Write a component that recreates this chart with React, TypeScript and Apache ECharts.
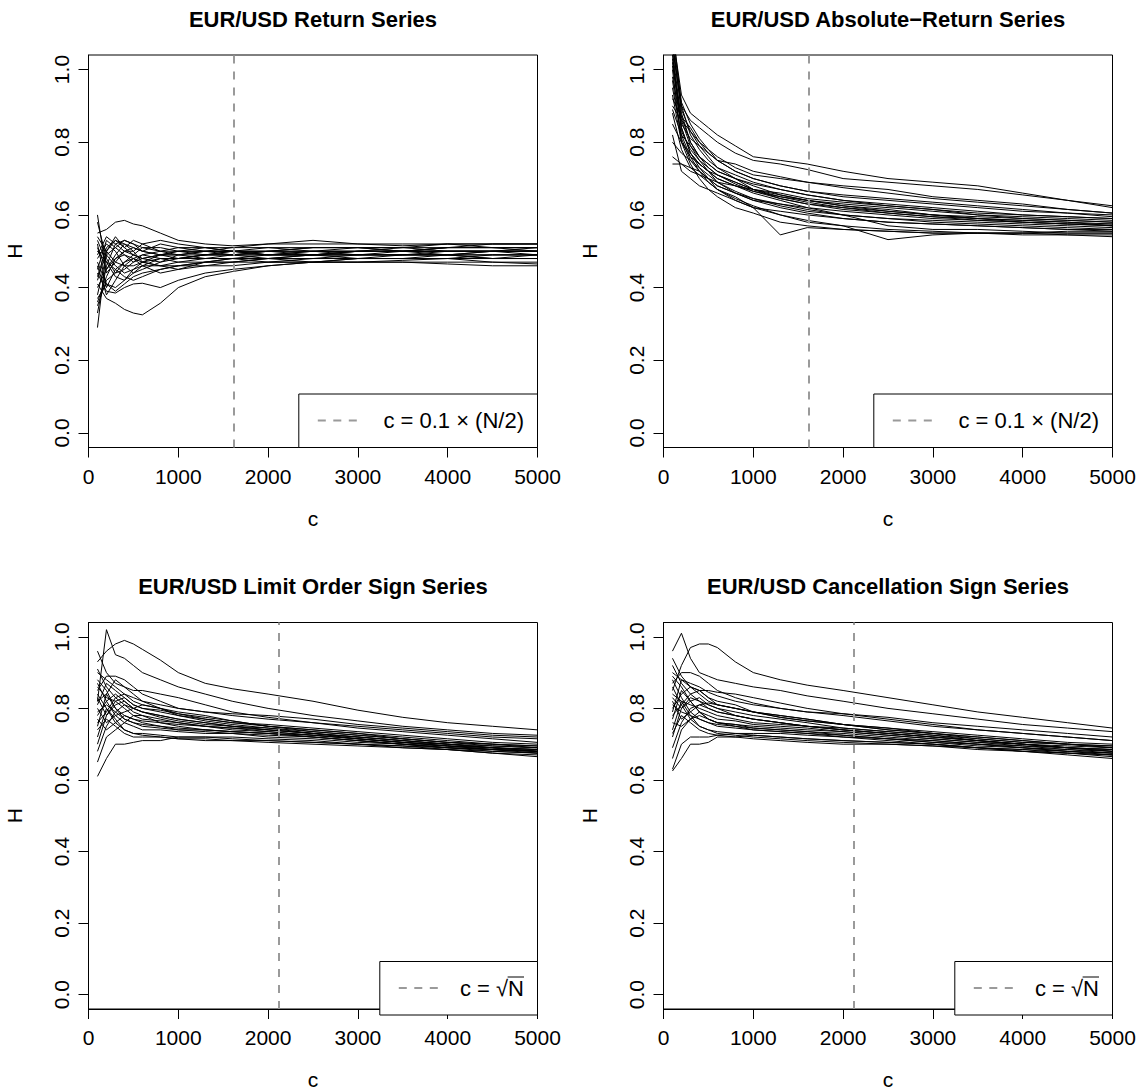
import React, { useEffect, useRef } from "react";
import * as echarts from "echarts";

// ---------- data ----------
const C_VALUES = [100, 200, 300, 400, 500, 600, 800, 1000, 1300, 1600, 2000, 2500, 3000, 3500, 4000, 4500, 5000];
const X_TICKS = [0, 1000, 2000, 3000, 4000, 5000];
const Y_TICKS = [0, 0.2, 0.4, 0.6, 0.8, 1];
const TITLES = [
  "EUR/USD Return Series",
  "EUR/USD Absolute\u2212Return Series",
  "EUR/USD Limit Order Sign Series",
  "EUR/USD Cancellation Sign Series",
];
const CUTOFFS = [1620, 1620, 2120, 2120];
const LEGEND_LABELS = ["c = 0.1 \u00d7 (N/2)", "c = 0.1 \u00d7 (N/2)", "c = \u221aN", "c = \u221aN"];

const RETURN_H: number[][] = [
  [0.60, 0.44, 0.47, 0.50, 0.49, 0.48, 0.49, 0.50, 0.50, 0.49, 0.50, 0.50, 0.51, 0.50, 0.51, 0.51, 0.51],
  [0.29, 0.50, 0.53, 0.51, 0.49, 0.48, 0.49, 0.48, 0.49, 0.49, 0.48, 0.49, 0.50, 0.50, 0.50, 0.50, 0.50],
  [0.55, 0.56, 0.58, 0.585, 0.575, 0.57, 0.55, 0.53, 0.52, 0.515, 0.52, 0.53, 0.52, 0.515, 0.52, 0.52, 0.52],
  [0.41, 0.37, 0.357, 0.34, 0.33, 0.325, 0.357, 0.40, 0.43, 0.444, 0.46, 0.47, 0.48, 0.48, 0.48, 0.49, 0.49],
  [0.44, 0.39, 0.385, 0.40, 0.41, 0.412, 0.40, 0.42, 0.44, 0.45, 0.46, 0.47, 0.47, 0.475, 0.48, 0.48, 0.48],
  [0.52, 0.40, 0.45, 0.47, 0.48, 0.47, 0.46, 0.45, 0.46, 0.47, 0.47, 0.47, 0.47, 0.47, 0.465, 0.46, 0.46],
  [0.33, 0.46, 0.52, 0.53, 0.52, 0.51, 0.50, 0.51, 0.50, 0.50, 0.50, 0.51, 0.51, 0.51, 0.51, 0.52, 0.52],
  [0.48, 0.52, 0.50, 0.46, 0.44, 0.45, 0.47, 0.48, 0.49, 0.50, 0.49, 0.49, 0.49, 0.50, 0.50, 0.50, 0.50],
  [0.36, 0.43, 0.48, 0.50, 0.51, 0.50, 0.49, 0.49, 0.48, 0.48, 0.49, 0.49, 0.50, 0.50, 0.49, 0.49, 0.49],
  [0.50, 0.47, 0.43, 0.42, 0.44, 0.46, 0.48, 0.47, 0.47, 0.48, 0.48, 0.48, 0.49, 0.49, 0.49, 0.50, 0.50],
  [0.45, 0.53, 0.51, 0.49, 0.47, 0.49, 0.50, 0.50, 0.49, 0.49, 0.50, 0.50, 0.50, 0.51, 0.50, 0.50, 0.51],
  [0.58, 0.48, 0.44, 0.45, 0.47, 0.48, 0.47, 0.49, 0.50, 0.50, 0.51, 0.50, 0.50, 0.50, 0.51, 0.51, 0.50],
  [0.40, 0.45, 0.49, 0.52, 0.50, 0.47, 0.46, 0.47, 0.48, 0.48, 0.47, 0.48, 0.48, 0.48, 0.48, 0.47, 0.47],
  [0.54, 0.50, 0.47, 0.46, 0.46, 0.47, 0.48, 0.48, 0.49, 0.49, 0.49, 0.50, 0.49, 0.49, 0.50, 0.50, 0.49],
  [0.38, 0.49, 0.46, 0.44, 0.45, 0.46, 0.46, 0.46, 0.47, 0.47, 0.48, 0.48, 0.48, 0.49, 0.49, 0.48, 0.49],
  [0.47, 0.41, 0.40, 0.42, 0.45, 0.47, 0.49, 0.49, 0.50, 0.51, 0.51, 0.51, 0.51, 0.51, 0.52, 0.51, 0.51],
  [0.43, 0.51, 0.53, 0.52, 0.51, 0.50, 0.52, 0.51, 0.51, 0.50, 0.50, 0.49, 0.49, 0.49, 0.49, 0.50, 0.50],
  [0.51, 0.45, 0.48, 0.49, 0.48, 0.46, 0.44, 0.45, 0.47, 0.48, 0.48, 0.49, 0.49, 0.49, 0.49, 0.49, 0.49],
  [0.35, 0.42, 0.44, 0.47, 0.49, 0.51, 0.51, 0.50, 0.50, 0.50, 0.49, 0.50, 0.50, 0.50, 0.50, 0.50, 0.50],
  [0.49, 0.54, 0.52, 0.50, 0.50, 0.52, 0.53, 0.52, 0.51, 0.51, 0.52, 0.52, 0.52, 0.52, 0.52, 0.52, 0.52],
  [0.46, 0.38, 0.42, 0.46, 0.48, 0.49, 0.48, 0.48, 0.48, 0.49, 0.49, 0.49, 0.48, 0.48, 0.49, 0.48, 0.48],
  [0.53, 0.47, 0.45, 0.43, 0.42, 0.43, 0.45, 0.46, 0.47, 0.47, 0.48, 0.47, 0.48, 0.48, 0.48, 0.48, 0.48],
  [0.42, 0.50, 0.54, 0.51, 0.53, 0.52, 0.50, 0.49, 0.49, 0.50, 0.50, 0.51, 0.51, 0.50, 0.51, 0.51, 0.51],
  [0.37, 0.41, 0.39, 0.41, 0.43, 0.44, 0.45, 0.46, 0.46, 0.46, 0.47, 0.47, 0.47, 0.47, 0.47, 0.47, 0.465],
  [0.50, 0.49, 0.51, 0.53, 0.52, 0.50, 0.49, 0.50, 0.51, 0.50, 0.49, 0.49, 0.50, 0.50, 0.50, 0.50, 0.50],
];

const ABS_RETURN_H: number[][] = [
  [1.10, 0.93, 0.88, 0.86, 0.84, 0.82, 0.79, 0.76, 0.75, 0.74, 0.72, 0.70, 0.69, 0.68, 0.66, 0.64, 0.62],
  [1.06, 0.90, 0.86, 0.84, 0.82, 0.80, 0.77, 0.75, 0.74, 0.725, 0.70, 0.69, 0.68, 0.67, 0.655, 0.64, 0.625],
  [0.76, 0.74, 0.72, 0.71, 0.70, 0.69, 0.68, 0.67, 0.655, 0.64, 0.625, 0.61, 0.60, 0.59, 0.585, 0.58, 0.57],
  [0.74, 0.74, 0.73, 0.72, 0.70, 0.68, 0.66, 0.64, 0.63, 0.62, 0.61, 0.60, 0.59, 0.585, 0.58, 0.575, 0.57],
  [1.00, 0.80, 0.74, 0.70, 0.67, 0.65, 0.62, 0.605, 0.58, 0.57, 0.56, 0.555, 0.55, 0.55, 0.545, 0.545, 0.54],
  [0.95, 0.82, 0.76, 0.72, 0.70, 0.67, 0.64, 0.62, 0.60, 0.58, 0.57, 0.56, 0.555, 0.55, 0.55, 0.545, 0.545],
  [1.08, 0.88, 0.80, 0.76, 0.74, 0.72, 0.70, 0.68, 0.655, 0.64, 0.63, 0.62, 0.61, 0.60, 0.59, 0.585, 0.58],
  [0.90, 0.86, 0.83, 0.80, 0.77, 0.75, 0.72, 0.70, 0.68, 0.665, 0.65, 0.64, 0.63, 0.62, 0.61, 0.605, 0.60],
  [0.88, 0.78, 0.73, 0.71, 0.69, 0.67, 0.65, 0.62, 0.545, 0.565, 0.56, 0.555, 0.55, 0.55, 0.55, 0.555, 0.555],
  [1.04, 0.84, 0.77, 0.74, 0.72, 0.70, 0.68, 0.66, 0.64, 0.62, 0.60, 0.57, 0.56, 0.56, 0.555, 0.55, 0.55],
  [0.97, 0.81, 0.75, 0.72, 0.69, 0.67, 0.645, 0.625, 0.60, 0.585, 0.57, 0.532, 0.545, 0.55, 0.55, 0.55, 0.55],
  [1.12, 0.90, 0.82, 0.78, 0.75, 0.73, 0.71, 0.69, 0.67, 0.655, 0.64, 0.63, 0.62, 0.61, 0.60, 0.595, 0.59],
  [0.92, 0.87, 0.84, 0.80, 0.78, 0.76, 0.73, 0.71, 0.70, 0.69, 0.68, 0.67, 0.65, 0.64, 0.63, 0.615, 0.605],
  [1.02, 0.83, 0.78, 0.75, 0.73, 0.71, 0.69, 0.67, 0.65, 0.635, 0.62, 0.605, 0.595, 0.585, 0.58, 0.575, 0.57],
  [0.85, 0.80, 0.77, 0.74, 0.72, 0.70, 0.68, 0.665, 0.65, 0.64, 0.625, 0.615, 0.60, 0.59, 0.585, 0.58, 0.575],
  [1.05, 0.86, 0.79, 0.75, 0.72, 0.69, 0.66, 0.64, 0.62, 0.605, 0.59, 0.58, 0.575, 0.57, 0.565, 0.56, 0.56],
  [0.82, 0.72, 0.70, 0.68, 0.67, 0.66, 0.64, 0.62, 0.61, 0.60, 0.59, 0.58, 0.575, 0.57, 0.565, 0.56, 0.555],
  [0.98, 0.85, 0.81, 0.79, 0.77, 0.75, 0.74, 0.72, 0.705, 0.69, 0.675, 0.66, 0.645, 0.635, 0.625, 0.615, 0.605],
  [1.07, 0.89, 0.83, 0.79, 0.76, 0.73, 0.70, 0.67, 0.645, 0.63, 0.62, 0.61, 0.60, 0.595, 0.59, 0.585, 0.58],
  [0.93, 0.80, 0.76, 0.74, 0.72, 0.71, 0.69, 0.67, 0.66, 0.645, 0.635, 0.625, 0.615, 0.605, 0.60, 0.595, 0.59],
  [1.03, 0.84, 0.77, 0.73, 0.70, 0.68, 0.66, 0.645, 0.625, 0.61, 0.60, 0.59, 0.585, 0.58, 0.575, 0.57, 0.565],
  [0.89, 0.82, 0.79, 0.76, 0.74, 0.72, 0.70, 0.685, 0.67, 0.655, 0.64, 0.625, 0.615, 0.60, 0.595, 0.59, 0.585],
  [1.09, 0.91, 0.85, 0.81, 0.78, 0.75, 0.72, 0.70, 0.68, 0.665, 0.655, 0.645, 0.635, 0.625, 0.615, 0.605, 0.595],
  [0.80, 0.77, 0.75, 0.73, 0.71, 0.69, 0.665, 0.645, 0.63, 0.615, 0.60, 0.59, 0.58, 0.575, 0.57, 0.565, 0.56],
  [1.01, 0.87, 0.80, 0.76, 0.73, 0.71, 0.685, 0.665, 0.645, 0.63, 0.615, 0.605, 0.595, 0.59, 0.58, 0.575, 0.575],
];

const LIMIT_SIGN_H: number[][] = [
  [0.93, 0.96, 0.98, 0.99, 0.98, 0.965, 0.935, 0.90, 0.87, 0.855, 0.84, 0.82, 0.795, 0.775, 0.76, 0.75, 0.74],
  [0.82, 1.02, 0.95, 0.94, 0.92, 0.90, 0.88, 0.86, 0.84, 0.82, 0.80, 0.78, 0.765, 0.75, 0.74, 0.73, 0.725],
  [0.61, 0.66, 0.70, 0.70, 0.705, 0.71, 0.71, 0.72, 0.72, 0.72, 0.715, 0.71, 0.70, 0.695, 0.69, 0.685, 0.68],
  [0.65, 0.72, 0.74, 0.76, 0.78, 0.78, 0.76, 0.75, 0.74, 0.735, 0.73, 0.72, 0.71, 0.70, 0.69, 0.685, 0.68],
  [0.96, 0.90, 0.87, 0.86, 0.85, 0.85, 0.84, 0.83, 0.81, 0.79, 0.775, 0.76, 0.75, 0.74, 0.73, 0.72, 0.715],
  [0.78, 0.82, 0.84, 0.82, 0.80, 0.79, 0.78, 0.77, 0.76, 0.75, 0.74, 0.73, 0.715, 0.705, 0.695, 0.69, 0.685],
  [0.88, 0.85, 0.80, 0.77, 0.76, 0.755, 0.75, 0.745, 0.74, 0.735, 0.73, 0.725, 0.715, 0.705, 0.70, 0.69, 0.685],
  [0.70, 0.78, 0.82, 0.83, 0.81, 0.80, 0.79, 0.78, 0.765, 0.755, 0.745, 0.73, 0.72, 0.71, 0.70, 0.695, 0.69],
  [0.84, 0.80, 0.76, 0.74, 0.73, 0.725, 0.72, 0.715, 0.71, 0.71, 0.705, 0.70, 0.695, 0.69, 0.685, 0.675, 0.67],
  [0.90, 0.88, 0.86, 0.84, 0.83, 0.82, 0.81, 0.80, 0.79, 0.78, 0.77, 0.76, 0.745, 0.735, 0.725, 0.715, 0.705],
  [0.75, 0.84, 0.80, 0.78, 0.77, 0.76, 0.75, 0.74, 0.735, 0.73, 0.72, 0.715, 0.705, 0.70, 0.69, 0.68, 0.675],
  [0.80, 0.76, 0.78, 0.79, 0.80, 0.81, 0.80, 0.79, 0.78, 0.765, 0.75, 0.74, 0.73, 0.715, 0.705, 0.70, 0.69],
  [0.86, 0.83, 0.82, 0.80, 0.78, 0.77, 0.765, 0.76, 0.75, 0.745, 0.74, 0.73, 0.72, 0.71, 0.70, 0.69, 0.685],
  [0.72, 0.80, 0.77, 0.74, 0.73, 0.73, 0.725, 0.72, 0.72, 0.715, 0.71, 0.705, 0.70, 0.69, 0.685, 0.68, 0.675],
  [0.81, 0.87, 0.85, 0.83, 0.81, 0.80, 0.795, 0.785, 0.775, 0.765, 0.75, 0.735, 0.725, 0.715, 0.705, 0.695, 0.69],
  [0.77, 0.74, 0.76, 0.78, 0.77, 0.765, 0.76, 0.755, 0.75, 0.74, 0.735, 0.725, 0.715, 0.705, 0.695, 0.685, 0.68],
  [0.85, 0.89, 0.89, 0.88, 0.86, 0.84, 0.82, 0.80, 0.79, 0.785, 0.78, 0.77, 0.755, 0.745, 0.735, 0.725, 0.72],
  [0.79, 0.81, 0.79, 0.77, 0.76, 0.75, 0.745, 0.74, 0.74, 0.735, 0.73, 0.72, 0.71, 0.70, 0.69, 0.685, 0.675],
  [0.83, 0.78, 0.81, 0.82, 0.80, 0.79, 0.775, 0.765, 0.755, 0.75, 0.745, 0.735, 0.725, 0.715, 0.705, 0.70, 0.695],
  [0.68, 0.75, 0.79, 0.81, 0.80, 0.79, 0.78, 0.77, 0.76, 0.75, 0.74, 0.73, 0.72, 0.71, 0.70, 0.69, 0.68],
  [0.87, 0.82, 0.78, 0.76, 0.75, 0.74, 0.74, 0.735, 0.73, 0.73, 0.725, 0.72, 0.71, 0.70, 0.695, 0.69, 0.68],
  [0.76, 0.79, 0.83, 0.84, 0.82, 0.81, 0.80, 0.785, 0.77, 0.76, 0.75, 0.74, 0.73, 0.72, 0.71, 0.70, 0.695],
  [0.91, 0.86, 0.83, 0.81, 0.79, 0.78, 0.77, 0.76, 0.75, 0.745, 0.735, 0.725, 0.715, 0.705, 0.695, 0.685, 0.68],
  [0.74, 0.77, 0.75, 0.73, 0.72, 0.72, 0.72, 0.715, 0.715, 0.71, 0.71, 0.705, 0.70, 0.695, 0.685, 0.675, 0.665],
  [0.82, 0.84, 0.88, 0.86, 0.84, 0.82, 0.80, 0.78, 0.77, 0.76, 0.755, 0.745, 0.735, 0.725, 0.715, 0.705, 0.70],
];

const CANCEL_SIGN_H: number[][] = [
  [0.85, 0.92, 0.97, 0.98, 0.98, 0.97, 0.93, 0.90, 0.88, 0.865, 0.85, 0.83, 0.81, 0.79, 0.775, 0.76, 0.745],
  [0.96, 1.01, 0.94, 0.90, 0.89, 0.88, 0.87, 0.86, 0.85, 0.835, 0.82, 0.80, 0.785, 0.77, 0.755, 0.745, 0.735],
  [0.625, 0.66, 0.70, 0.70, 0.705, 0.72, 0.72, 0.725, 0.72, 0.715, 0.71, 0.705, 0.70, 0.69, 0.68, 0.675, 0.665],
  [0.66, 0.74, 0.77, 0.78, 0.77, 0.76, 0.75, 0.74, 0.735, 0.73, 0.72, 0.71, 0.70, 0.69, 0.685, 0.675, 0.67],
  [0.94, 0.89, 0.86, 0.85, 0.85, 0.845, 0.84, 0.83, 0.815, 0.80, 0.785, 0.77, 0.755, 0.74, 0.73, 0.72, 0.71],
  [0.80, 0.84, 0.86, 0.85, 0.83, 0.81, 0.80, 0.79, 0.775, 0.765, 0.755, 0.74, 0.73, 0.715, 0.705, 0.70, 0.69],
  [0.89, 0.86, 0.82, 0.79, 0.77, 0.76, 0.755, 0.75, 0.745, 0.74, 0.735, 0.725, 0.715, 0.705, 0.70, 0.69, 0.685],
  [0.72, 0.80, 0.83, 0.82, 0.81, 0.80, 0.79, 0.78, 0.77, 0.76, 0.745, 0.735, 0.725, 0.71, 0.70, 0.695, 0.69],
  [0.86, 0.81, 0.77, 0.75, 0.74, 0.73, 0.725, 0.72, 0.715, 0.71, 0.705, 0.70, 0.695, 0.69, 0.68, 0.675, 0.67],
  [0.90, 0.88, 0.87, 0.86, 0.845, 0.835, 0.82, 0.81, 0.80, 0.79, 0.78, 0.765, 0.75, 0.74, 0.73, 0.72, 0.71],
  [0.77, 0.85, 0.82, 0.79, 0.77, 0.76, 0.755, 0.745, 0.74, 0.735, 0.725, 0.715, 0.705, 0.70, 0.69, 0.68, 0.675],
  [0.82, 0.77, 0.79, 0.81, 0.815, 0.81, 0.80, 0.79, 0.78, 0.77, 0.755, 0.745, 0.73, 0.72, 0.71, 0.70, 0.695],
  [0.84, 0.82, 0.81, 0.80, 0.79, 0.78, 0.77, 0.76, 0.755, 0.75, 0.74, 0.73, 0.72, 0.71, 0.70, 0.69, 0.685],
  [0.74, 0.82, 0.78, 0.75, 0.74, 0.735, 0.73, 0.725, 0.72, 0.715, 0.71, 0.705, 0.70, 0.69, 0.685, 0.68, 0.67],
  [0.79, 0.88, 0.86, 0.84, 0.82, 0.81, 0.80, 0.79, 0.78, 0.77, 0.755, 0.74, 0.73, 0.72, 0.71, 0.70, 0.69],
  [0.76, 0.75, 0.77, 0.79, 0.78, 0.77, 0.765, 0.755, 0.75, 0.745, 0.735, 0.725, 0.715, 0.705, 0.695, 0.69, 0.68],
  [0.87, 0.90, 0.90, 0.89, 0.87, 0.85, 0.83, 0.815, 0.80, 0.79, 0.785, 0.775, 0.76, 0.75, 0.74, 0.73, 0.72],
  [0.81, 0.79, 0.78, 0.77, 0.76, 0.755, 0.75, 0.745, 0.74, 0.735, 0.73, 0.72, 0.71, 0.70, 0.69, 0.685, 0.675],
  [0.83, 0.80, 0.82, 0.83, 0.81, 0.80, 0.78, 0.77, 0.76, 0.75, 0.745, 0.735, 0.725, 0.715, 0.705, 0.70, 0.695],
  [0.69, 0.76, 0.80, 0.81, 0.80, 0.79, 0.78, 0.77, 0.76, 0.75, 0.74, 0.73, 0.72, 0.71, 0.70, 0.69, 0.68],
  [0.88, 0.83, 0.79, 0.77, 0.76, 0.75, 0.745, 0.74, 0.735, 0.73, 0.725, 0.715, 0.71, 0.70, 0.695, 0.685, 0.68],
  [0.78, 0.81, 0.84, 0.85, 0.83, 0.82, 0.81, 0.79, 0.775, 0.765, 0.755, 0.745, 0.735, 0.725, 0.715, 0.705, 0.70],
  [0.92, 0.87, 0.84, 0.82, 0.80, 0.79, 0.78, 0.77, 0.76, 0.75, 0.74, 0.73, 0.72, 0.71, 0.70, 0.69, 0.685],
  [0.73, 0.78, 0.76, 0.74, 0.73, 0.725, 0.72, 0.715, 0.71, 0.705, 0.70, 0.70, 0.695, 0.685, 0.68, 0.67, 0.66],
  [0.63, 0.70, 0.72, 0.72, 0.72, 0.725, 0.73, 0.73, 0.73, 0.725, 0.72, 0.715, 0.705, 0.695, 0.69, 0.68, 0.675],
];

const PANEL_DATA = [RETURN_H, ABS_RETURN_H, LIMIT_SIGN_H, CANCEL_SIGN_H];

// ---------- layout ----------
const FONT = "'Liberation Sans', Arial, Helvetica, sans-serif";
const W = 1141;
const H = 1091;
const PANELS = [
  { left: 88.5, top: 55 },
  { left: 663.5, top: 55 },
  { left: 88.5, top: 622.5 },
  { left: 663.5, top: 622.5 },
];
const GW = 449;
const GH = 392.5;
const LEGEND_W = [238.7, 238.7, 157.7, 157.7];
const LEGEND_H = 53.5;
const DASH_GREY = "#9a9a9a";
const LEGEND_FONT = 22;

function buildOption() {
  const grid = PANELS.map((p) => ({
    left: p.left,
    top: p.top,
    width: GW,
    height: GH,
    show: true,
    borderColor: "#000",
    borderWidth: 1,
    backgroundColor: "transparent",
  }));

  const xAxis = PANELS.map((_, i) => ({
    type: "value",
    gridIndex: i,
    min: X_TICKS[0],
    max: X_TICKS[X_TICKS.length - 1],
    interval: 1000,
    axisLine: { show: true, onZero: false, lineStyle: { color: "#000", width: 1 } },
    axisTick: { show: true, length: 10, lineStyle: { color: "#000", width: 1 } },
    axisLabel: {
      show: true,
      fontSize: 21,
      color: "#000",
      fontFamily: FONT,
      margin: 18,
      formatter: (v: number) => String(Math.round(v)),
    },
    splitLine: { show: false },
    name: "c",
    nameLocation: "middle",
    nameGap: 60,
    nameTextStyle: { fontSize: 21, color: "#000", fontFamily: FONT },
  }));

  const yAxis = PANELS.map((_, i) => ({
    type: "value",
    gridIndex: i,
    min: -0.04,
    max: 1.04,
    axisLine: { show: true, onZero: false, lineStyle: { color: "#000", width: 1 } },
    axisTick: { show: true, length: 10, customValues: Y_TICKS, lineStyle: { color: "#000", width: 1 } },
    axisLabel: {
      show: true,
      customValues: Y_TICKS,
      rotate: 90,
      fontSize: 21,
      color: "#000",
      fontFamily: FONT,
      margin: 17,
      formatter: (v: number) => v.toFixed(1),
    },
    splitLine: { show: false },
    name: "H",
    nameLocation: "middle",
    nameRotate: 90,
    nameGap: 64,
    nameTextStyle: { fontSize: 21, color: "#000", fontFamily: FONT },
  }));

  const series: any[] = [];
  PANEL_DATA.forEach((rows, i) => {
    rows.forEach((row, k) => {
      const s: any = {
        type: "line",
        xAxisIndex: i,
        yAxisIndex: i,
        data: C_VALUES.map((c, j) => [c, row[j]]),
        symbol: "none",
        silent: true,
        clip: true,
        lineStyle: { color: "#000", width: 1 },
      };
      if (k === 0) {
        s.markLine = {
          symbol: "none",
          silent: true,
          label: { show: false },
          lineStyle: { color: DASH_GREY, type: [8, 8], width: 2 },
          data: [{ xAxis: CUTOFFS[i] }],
        };
      }
      series.push(s);
    });
  });

  const graphic: any[] = [];
  PANELS.forEach((p, i) => {
    const right = p.left + GW;
    const bottom = p.top + GH;
    graphic.push({
      type: "text",
      x: p.left + GW / 2,
      y: p.top - 36,
      style: {
        text: TITLES[i],
        fontSize: 22,
        fontWeight: "bold",
        fontFamily: FONT,
        fill: "#000",
        textAlign: "center",
        textVerticalAlign: "middle",
      },
    });
    const lx = right - LEGEND_W[i];
    const ly = bottom - LEGEND_H;
    graphic.push({
      type: "rect",
      shape: { x: lx, y: ly, width: LEGEND_W[i], height: LEGEND_H },
      style: { fill: "#fff", stroke: "#000", lineWidth: 1 },
      z: 10,
    });
    const cy = bottom - 27;
    graphic.push({
      type: "line",
      shape: { x1: lx + 19, y1: cy, x2: lx + 58, y2: cy },
      style: { stroke: DASH_GREY, lineWidth: 2, lineDash: [8, 7.5] },
      z: 11,
    });
    graphic.push({
      type: "text",
      x: right - 13.5,
      y: cy,
      style: {
        text: LEGEND_LABELS[i],
        fontSize: LEGEND_FONT,
        fontFamily: FONT,
        fill: "#000",
        textAlign: "right",
        textVerticalAlign: "middle",
      },
      z: 11,
    });
    if (i >= 2) {
      const nW = 0.722 * LEGEND_FONT;
      graphic.push({
        type: "line",
        shape: { x1: right - 13.5 - nW - 0.5, y1: cy - 11, x2: right - 13.5, y2: cy - 11 },
        style: { stroke: "#000", lineWidth: 1 },
        z: 11,
      });
    }
  });

  return {
    animation: false,
    backgroundColor: "#fff",
    grid,
    xAxis,
    yAxis,
    series,
    graphic,
  };
}

export default function App() {
  const ref = useRef<HTMLDivElement | null>(null);
  useEffect(() => {
    document.body.style.margin = "0";
    if (!ref.current) return;
    const chart = echarts.init(ref.current, null, { renderer: "svg", width: W, height: H });
    chart.setOption(buildOption() as any);
    return () => chart.dispose();
  }, []);
  return <div ref={ref} style={{ width: W, height: H, background: "#fff" }} />;
}
